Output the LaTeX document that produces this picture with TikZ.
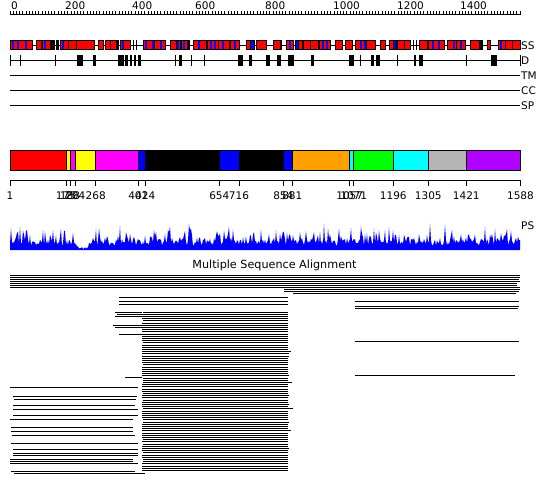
\documentclass[tikz,border=0pt]{standalone}
\usepackage{fontspec}
\setmainfont{DejaVu Sans}
\usetikzlibrary{positioning}

\definecolor{helixred}{HTML}{FF0000}
\definecolor{strandblue}{HTML}{0000FF}
\definecolor{domyellow}{HTML}{FFFF00}
\definecolor{dommagenta}{HTML}{FF00FF}
\definecolor{domorange}{HTML}{FFA000}
\definecolor{domgreen}{HTML}{00FF00}
\definecolor{domcyan}{HTML}{00FFFF}
\definecolor{domgray}{HTML}{B4B4B4}
\definecolor{dompurple}{HTML}{B000FF}

\tikzset{
    track line/.style={line width=1pt, color=black},
    track label/.style={
        inner sep=0pt, anchor=west,
        font=\fontsize{10.5}{12}\selectfont
    },
    tick label/.style={
        inner sep=0pt, anchor=base,
        font=\fontsize{10.5}{12}\selectfont
    },
    ss box/.style={draw=black, fill=helixred, line width=1pt},
    ss strand/.style={fill=strandblue},
    ss mark/.style={fill=black},
    disorder box/.style={fill=black},
    domain box/.style={draw=black, line width=1pt, fill=#1},
    domain box/.default={white},
    aln row/.style={line width=1pt, color=black},
}

\begin{document}
\begin{tikzpicture}[x=1pt, y=-1pt]
    \useasboundingbox (0,0) rectangle (550,495);
    \fill[white] (0,0) rectangle (550,495);

    % Ruler
    \draw[track line] (10,15) -- (520,15);
    \foreach \i in {0,...,159}
        \draw[line width=0.8pt] ({10+\i*3.207},15) -- ++(0,-3.5);
    \foreach \v/\x in {0/11, 200/65, 400/132, 600/195, 800/265, 1000/333, 1200/397, 1400/460}
        \node[tick label, anchor=base west] (ruler\v) at (\x,9.5) {\v};

    % Secondary structure track
    \draw[track line] (10,45.5) -- (520,45.5) coordinate (endSS);
    \foreach \a/\b in {10/32, 36/41, 42/50, 60/68, 68/76, 76/94, 98/103, 105/110, 110/116,
        120/130, 143/154, 154/165, 170/176, 176/180, 181/187, 193/206, 207/218, 218/229,
        230/239, 246/250, 256/266, 273/280, 286/293, 298/302, 303/310, 310/318, 319/330,
        335/342, 345/352, 355/366, 366/375, 380/385, 389/393, 397/404, 404/410, 419/427,
        428/444, 447/456, 456/465, 470/479, 487/490, 498/505, 505/512, 512/520}
        \draw[ss box] (\a,41) rectangle (\b,50);
    \foreach \a/\b in {250/254, 295/298, 393/396}
        \draw[ss box, fill=strandblue] (\a,41) rectangle (\b,50);
    \foreach \x in {12, 17, 25, 44, 62, 122, 145, 152, 160, 177, 183, 198, 210, 214, 222,
        234, 289, 322, 326, 360, 364, 432, 438, 453, 460, 500}
        \fill[ss strand] (\x,41.5) rectangle ++(1.5,8);
    \foreach \a/\b in {51/55, 56/59, 117/119, 133/134, 136/137, 188/190, 281/282,
        413/414, 416/417, 480/483}
        \fill[ss mark] (\a,40.5) rectangle (\b,50.5);
    \node[track label, right=1pt of endSS] (labelSS) {SS};

    % Disorder track
    \draw[track line] (10,60.5) -- (520,60.5) coordinate (endD);
    \foreach \x in {10, 20, 55, 175, 191, 204, 360, 397, 466, 520}
        \draw[track line] (\x,55) -- (\x,66);
    \foreach \a/\b in {77/83, 93/96, 118/124, 125/128, 130/132, 134/136, 138/141, 179/182,
        238/243, 249/252, 266/270, 277/281, 288/294, 311/314, 349/354, 371/374, 376/380,
        414/416, 419/423, 491/497}
        \fill[disorder box] (\a,55) rectangle (\b,66);
    \node[track label, right=1pt of endD] (labelD) {D};

    % Empty tracks
    \foreach \y/\t in {75.5/TM, 90.5/CC, 105.5/SP} {
        \draw[track line] (10,\y) -- (520,\y) coordinate (end\t);
        \node[track label, right=1pt of end\t] (label\t) {\t};
    }

    % Domain bar
    \foreach \a/\b/\c in {10/66/helixred, 66/70/domyellow, 70/75.3/dommagenta,
        75.3/95.7/domyellow, 95.7/138.3/dommagenta, 138.3/145.3/strandblue,
        145.3/219.3/black, 219.3/239/strandblue, 239/283.3/black, 283.3/292.3/strandblue,
        292.3/349.7/domorange, 349.7/353.7/domcyan, 353.7/393.3/domgreen,
        393.3/428.3/domcyan, 428.3/466.3/domgray, 466.3/520.5/dompurple}
        \draw[domain box=\c] (\a,150.5) rectangle (\b,170.5);

    % Domain boundaries
    \draw[track line] (10,181) -- (520.5,181);
    \foreach \x/\t in {10/1, 66/175, 70/188, 75.3/204, 95.7/268, 138.3/401, 145.3/424,
        219.3/654, 239/716, 283.3/854, 292.3/881, 349.7/1057, 353.7/1071, 393.3/1196,
        428.3/1305, 466.3/1421, 520.5/1588} {
        \draw[track line] (\x,181) -- (\x,186);
        \node[tick label] (bound\t) at (\x,199.5) {\t};
    }

    % PS profile
    \pgfmathsetseed{7}
    \fill[strandblue] (10,250)
        \foreach \i in {10,...,520} {
            -- (\i,{250-(1-0.88*exp(-((\i-83)/8)^2))*(4+7*rnd+16*rnd^4)})
        } -- (520,250) -- cycle;
    \coordinate (endPS) at (520,226);
    \node[track label, right=1pt of endPS] (labelPS) {PS};

    % Multiple sequence alignment
    \node[inner sep=0pt, font=\fontsize{11.2}{13}\selectfont] (alntitle) at (274.5,265.5)
        {Multiple Sequence Alignment};

    \foreach \y/\a/\b in {275/10/520, 277/10/520, 279/10/519, 281/10/520, 283/10/517,
        285/10/517, 287/10/520, 289/284/520, 291/284/519, 293.5/293/516}
        \draw[aln row] (\a,\y) -- (\b,\y);

    % central block
    \pgfmathsetseed{11}
    \foreach \y in {312,314.2,...,471}
        \draw[aln row] ({142+1.5*rnd^4},\y) -- ({288+6*rnd^8},\y);
    \foreach \y/\a/\b in {297.5/119/288, 301/119/288, 304.5/119/288, 312/115/142,
        314.2/117/142, 316.4/115/142, 325.2/113/142, 327.4/115/142, 334/119/142, 377/125/142}
        \draw[aln row] (\a,\y) -- (\b,\y);

    % right block
    \foreach \y/\a/\b in {301/355/519, 306/355/519, 308.5/355/518, 341/355/519, 375/355/515}
        \draw[aln row] (\a,\y) -- (\b,\y);

    % left block
    \foreach \y/\a/\b in {387/10/138, 396/13/137, 399/14/136, 405.5/13/135, 409/13/138,
        415/13/138, 419/10/133, 427/11/133, 431/11/133, 435/12/135, 443/11/138, 449/13/138,
        453/13/138, 455.5/13/138, 459/10/133, 461/10/133, 463.5/10/138, 471/11/135, 473.5/14/145}
        \draw[aln row] (\a,\y) -- (\b,\y);

\end{tikzpicture}
\end{document}
